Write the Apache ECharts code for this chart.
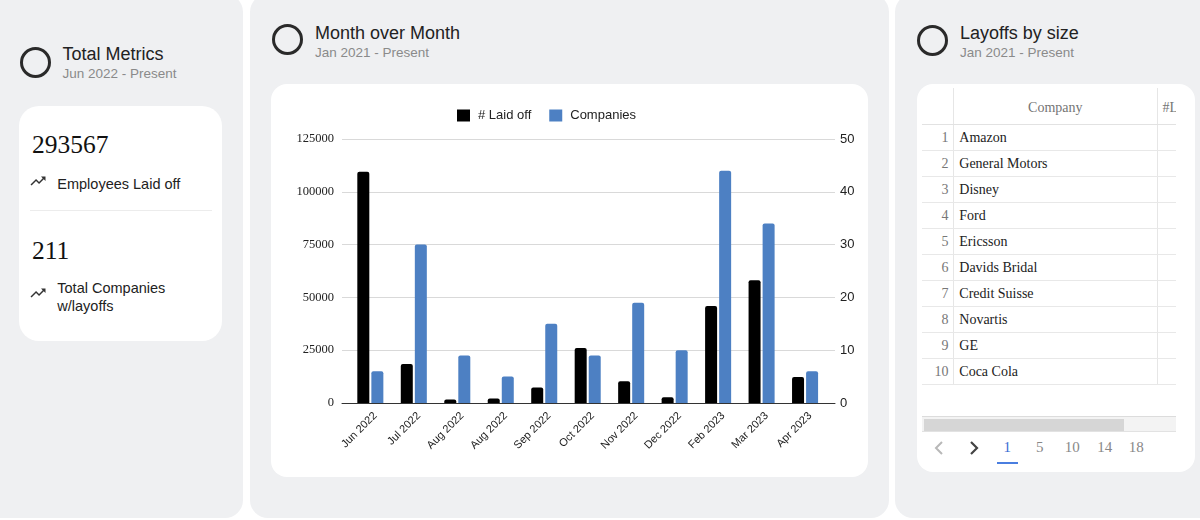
<!DOCTYPE html>
<html><head><meta charset="utf-8">
<script src="https://cdn.jsdelivr.net/npm/echarts/dist/echarts.min.js"></script>
<style>
body{margin:0;width:1200px;height:520px;overflow:hidden;position:relative;background:#fff;font-family:"Liberation Sans",Arial,sans-serif}
.abs{position:absolute;white-space:nowrap}
.panel{position:absolute;top:-6px;height:524px;background:#eff0f2;border-radius:18px}
.card{position:absolute;background:#fff}
.ring{position:absolute;width:31px;height:31px;box-sizing:border-box;border:3.3px solid #2a2a2a;border-radius:50%}
.t{font-size:18px;line-height:18px;color:#222}
.s{font-size:13.5px;line-height:13.5px;color:#8a8a8a}
.big{font-family:"Liberation Serif","Times New Roman",serif;font-size:25.5px;line-height:25.5px;color:#111}
.lbl{font-size:14.5px;line-height:18px;color:#222}
.serif{font-family:"Liberation Serif","Times New Roman",serif}
</style></head>
<body>
<div class="panel" style="left:-20px;width:263px"></div>
<div class="panel" style="left:250px;width:639px"></div>
<div class="panel" style="left:895px;width:330px"></div>

<!-- left panel -->
<div class="ring" style="left:19.5px;top:46.5px"></div>
<div class="abs t" id="t1" style="left:62.5px;top:45px"></div>
<div class="abs s" id="s1" style="left:62.5px;top:66.5px"></div>
<div class="card" style="left:19px;top:106px;width:203px;height:235px;border-radius:20px"></div>
<div class="abs big" id="m1" style="left:32px;top:132px"></div>
<svg class="abs" style="left:29.2px;top:172.2px" width="18" height="18" viewBox="0 0 24 24"><path fill="#333" d="M16 6l2.29 2.29-4.88 4.88-4-4L2 16.59 3.41 18l6-6 4 4 6.3-6.29L22 12V6z"/></svg>
<div class="abs lbl" id="l1" style="left:57.3px;top:175px"></div>
<div class="abs" style="left:29.5px;top:210px;width:182px;height:1px;background:#ececec"></div>
<div class="abs big" id="m2" style="left:32px;top:238px"></div>
<svg class="abs" style="left:29.2px;top:283.8px" width="18" height="18" viewBox="0 0 24 24"><path fill="#333" d="M16 6l2.29 2.29-4.88 4.88-4-4L2 16.59 3.41 18l6-6 4 4 6.3-6.29L22 12V6z"/></svg>
<div class="abs lbl" id="l2" style="left:57.3px;top:279px"></div>

<!-- middle panel -->
<div class="ring" style="left:271.7px;top:24.3px"></div>
<div class="abs t" id="t2" style="left:315px;top:23.5px"></div>
<div class="abs s" id="s2" style="left:315px;top:45.9px"></div>
<div class="card" style="left:271px;top:84px;width:597px;height:393px;border-radius:16px"></div>
<div id="chart" class="abs" style="left:271px;top:84px;width:597px;height:393px"></div>

<!-- right panel -->
<div class="ring" style="left:917.3px;top:25px"></div>
<div class="abs t" id="t3" style="left:960px;top:23.5px"></div>
<div class="abs s" id="s3" style="left:960px;top:45.9px"></div>
<div class="card" style="left:917px;top:84px;width:278px;height:387.5px;border-radius:16px"></div>
<div id="tbl" class="abs" style="left:922px;top:88px;width:254px;height:344px;overflow:hidden"></div>
<div id="pager"></div>

<script>
// ---- data ----
var panelTitles = ['Total Metrics', 'Month over Month', 'Layoffs by size'];
var panelSubtitles = ['Jun 2022 - Present', 'Jan 2021 - Present', 'Jan 2021 - Present'];
var metricValues = ['293567', '211'];
var metricLabels = ['Employees Laid off', 'Total Companies<br>w/layoffs'];
var categories = ['Jun 2022','Jul 2022','Aug 2022','Aug 2022','Sep 2022','Oct 2022','Nov 2022','Dec 2022','Feb 2023','Mar 2023','Apr 2023'];
var laidOff = [109500, 18500, 1600, 2100, 7300, 26100, 10300, 2700, 45900, 58100, 12300];
var companiesCount = [6, 30, 9, 5, 15, 9, 19, 10, 44, 34, 6];
var seriesNames = ['# Laid off', 'Companies'];
var tableHeaders = ['Company', '#Laid off'];
var topCompanies = ['Amazon','General Motors','Disney','Ford','Ericsson','Davids Bridal','Credit Suisse','Novartis','GE','Coca Cola'];
var pageLinks = ['1','5','10','14','18'];

// ---- texts ----
['t1','t2','t3'].forEach(function(id,i){document.getElementById(id).textContent = panelTitles[i];});
['s1','s2','s3'].forEach(function(id,i){document.getElementById(id).textContent = panelSubtitles[i];});
document.getElementById('m1').textContent = metricValues[0];
document.getElementById('m2').textContent = metricValues[1];
document.getElementById('l1').innerHTML = metricLabels[0];
document.getElementById('l2').innerHTML = metricLabels[1];

// ---- table ----
var tbl = document.getElementById('tbl');
var h = '';
var headH = 36.5, rowH = 26;
var totalH = headH + rowH * topCompanies.length;
h += '<div class="abs" style="left:31.3px;top:0;width:1px;height:' + totalH + 'px;background:#e6e6e6"></div>';
h += '<div class="abs" style="left:235.3px;top:0;width:1px;height:' + totalH + 'px;background:#e6e6e6"></div>';
h += '<div class="abs serif" style="left:31.3px;width:204px;top:13px;text-align:center;font-size:14px;line-height:14px;color:#757575">' + tableHeaders[0] + '</div>';
h += '<div class="abs serif" style="left:240.5px;top:13px;font-size:14px;line-height:14px;color:#757575">' + tableHeaders[1] + '</div>';
h += '<div class="abs" style="left:0;top:' + (headH-1) + 'px;width:254px;height:1px;background:#e2e2e2"></div>';
topCompanies.forEach(function(name,i){
  var y = headH + i*rowH;
  h += '<div class="abs serif" style="left:0;width:26.5px;text-align:right;top:' + (y+6) + 'px;font-size:14px;line-height:14px;color:#777">' + (i+1) + '</div>';
  h += '<div class="abs serif" style="left:37.3px;top:' + (y+6) + 'px;font-size:14px;line-height:14px;color:#222">' + name + '</div>';
  h += '<div class="abs" style="left:0;top:' + (y+rowH-1) + 'px;width:254px;height:1px;background:#e8e8e8"></div>';
});
// scrollbar
h += '<div class="abs" style="left:0;top:327.7px;width:254px;background:#f3f3f3;border-top:1px solid #dcdcdc;border-bottom:1px solid #e2e2e2;box-sizing:border-box;height:16px"></div>';
h += '<div class="abs" style="left:2.3px;top:330.5px;width:200px;height:12px;background:#d6d6d6"></div>';
tbl.innerHTML = h;

// ---- pager ----
var pg = '';
pg += '<svg class="abs" style="left:933px;top:440px" width="12" height="16"><polyline points="9,2 3,8 9,14" fill="none" stroke="#b8b8b8" stroke-width="2"/></svg>';
pg += '<svg class="abs" style="left:968px;top:440px" width="12" height="16"><polyline points="3,2 9,8 3,14" fill="none" stroke="#444" stroke-width="2.2"/></svg>';
var pageX = [1007.2, 1039.7, 1072.2, 1104.8, 1136.3];
pageLinks.forEach(function(p,i){
  pg += '<div class="abs serif" style="left:' + (pageX[i]-20) + 'px;width:40px;text-align:center;top:440px;font-size:15px;line-height:15px;color:' + (i===0?'#3b6fd4':'#888') + '">' + p + '</div>';
});
pg += '<div class="abs" style="left:996.7px;top:461.5px;width:21.3px;height:2.3px;background:#4a7ee0"></div>';
document.getElementById('pager').innerHTML = pg;

// ---- chart ----
var chart = echarts.init(document.getElementById('chart'), null, {renderer:'canvas'});
var sansF = '"Liberation Sans", Arial, sans-serif';
var serifF = '"Liberation Serif", "Times New Roman", serif';
var plain = function(v){ return String(v); };
chart.setOption({
  animation:false,
  backgroundColor:'transparent',
  legend:{data:seriesNames, left:181, top:20, icon:'rect', itemWidth:13, itemHeight:12, itemGap:18,
    textStyle:{fontFamily:sansF, fontSize:13, color:'#222', padding:[0,0,0,3]}},
  grid:[
    {left:71,right:33,top:55,bottom:74},
    {left:77.6,right:41.2,top:55,bottom:74},
    {left:82.6,right:36.2,top:55,bottom:74}
  ],
  xAxis:[
    {gridIndex:0,type:'category',data:categories,axisLine:{lineStyle:{color:'#333',width:1}},axisTick:{show:false},axisLabel:{show:false},splitLine:{show:false}},
    {gridIndex:1,type:'category',data:categories,axisLine:{show:false},axisTick:{show:false},axisLabel:{show:false}},
    {gridIndex:2,type:'category',data:categories,axisLine:{show:false},axisTick:{show:false},
      axisLabel:{rotate:45,interval:0,fontSize:11,fontFamily:sansF,color:'#222',margin:11}}
  ],
  yAxis:[
    {gridIndex:0,type:'value',min:0,max:125000,interval:25000,
      axisLabel:{fontFamily:serifF,fontSize:12.5,color:'#222',margin:8,formatter:plain},
      splitLine:{lineStyle:{color:'#d9d9d9',width:1}},axisLine:{show:false},axisTick:{show:false}},
    {gridIndex:0,type:'value',position:'right',min:0,max:50,interval:10,
      axisLabel:{fontFamily:sansF,fontSize:13,color:'#222',margin:5,formatter:plain},
      splitLine:{show:false},axisLine:{show:false},axisTick:{show:false}},
    {gridIndex:1,type:'value',min:0,max:125000,interval:25000,show:false},
    {gridIndex:1,type:'value',min:0,max:50,interval:10,show:false},
    {gridIndex:2,type:'value',min:0,max:50,interval:10,show:false}
  ],
  series:[
    {name:seriesNames[0],type:'bar',xAxisIndex:1,yAxisIndex:2,data:laidOff,barWidth:12,barGap:'17%',
      itemStyle:{color:'#000',borderRadius:[2,2,0,0]}},
    {name:seriesNames[1],type:'bar',xAxisIndex:1,yAxisIndex:3,data:companiesCount,barWidth:12,barGap:'17%',
      itemStyle:{color:'#4d80c3',borderRadius:[2,2,0,0]}}
  ]
});
</script>
</body></html>
